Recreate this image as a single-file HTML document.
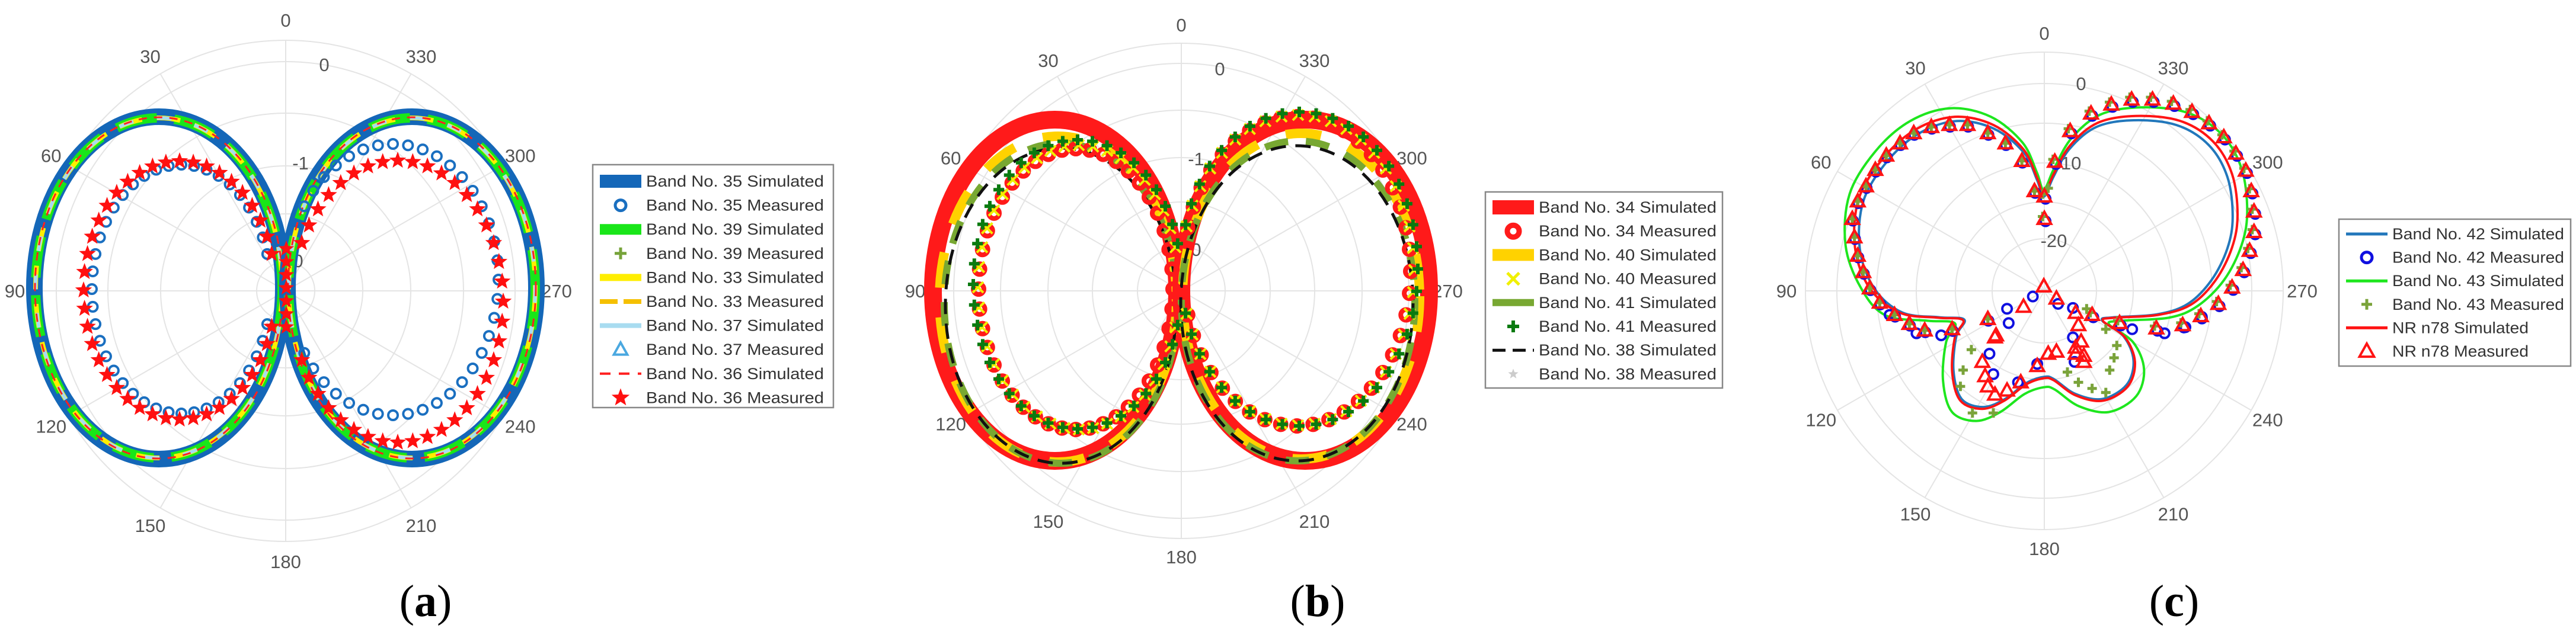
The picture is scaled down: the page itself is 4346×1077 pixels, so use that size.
<!DOCTYPE html>
<html><head><meta charset="utf-8"><style>
html,body{margin:0;padding:0;background:#fff;}
svg{display:block;}
</style></head><body>
<svg id="s" xmlns="http://www.w3.org/2000/svg" width="4346" height="1077" viewBox="0 0 4346 1077">
<rect width="4346" height="1077" fill="#fff"/>
<g id="root"></g>
</svg>
<script>
const NS='http://www.w3.org/2000/svg';
const root=document.getElementById('root');
function el(p,tag,a,txt){const e=document.createElementNS(NS,tag);for(const k in a)e.setAttribute(k,a[k]);if(txt!==undefined)e.textContent=txt;p.appendChild(e);return e;}
function grid(cx,cy,R,rings,lr,ringLabels){
  const g=el(root,'g',{stroke:'#e4e4e4','stroke-width':2,fill:'none'});
  rings.forEach(r=>el(g,'circle',{cx,cy,r}));
  for(let a=0;a<360;a+=30){const t=a*Math.PI/180;el(g,'line',{x1:cx,y1:cy,x2:cx-R*Math.sin(t),y2:cy-R*Math.cos(t)});}
  for(let a=0;a<360;a+=30){const t=a*Math.PI/180;el(root,'text',{x:cx-lr*Math.sin(t),y:cy-lr*Math.cos(t)+11,'text-anchor':'middle','font-family':'Liberation Sans, sans-serif','font-size':31,fill:'#555'},String(a));}
  ringLabels.forEach(l=>el(root,'text',{x:l[0],y:l[1]+11,'text-anchor':'middle','font-family':'Liberation Sans, sans-serif','font-size':31,fill:'#555'},l[2]));
}
function ell(c,cx,cy,rx,ry,stroke,w,dash){const a={cx,cy,rx,ry,fill:'none',stroke,'stroke-width':w};if(dash)a['stroke-dasharray']=dash;el(root,'ellipse',a);}
function star(x,y,s,col){let d='';for(let i=0;i<10;i++){const r=i%2?s*0.42:s;const t=-Math.PI/2+i*Math.PI/5;d+=(i?'L':'M')+(x+r*Math.cos(t)).toFixed(1)+' '+(y+r*Math.sin(t)).toFixed(1);}el(root,'path',{d:d+'Z',fill:col});}
function circ(x,y,r,col,w){el(root,'circle',{cx:x,cy:y,r,fill:'none',stroke:col,'stroke-width':w});}
function plus(x,y,s,col,w){el(root,'path',{d:`M${x-s} ${y}H${x+s}M${x} ${y-s}V${y+s}`,stroke:col,'stroke-width':w});}
function xm(x,y,s,col,w){el(root,'path',{d:`M${x-s} ${y-s}L${x+s} ${y+s}M${x+s} ${y-s}L${x-s} ${y+s}`,stroke:col,'stroke-width':w});}
function tri(x,y,s,col,w){el(root,'path',{d:`M${x} ${y-s}L${x+s*0.95} ${y+s*0.7}L${x-s*0.95} ${y+s*0.7}Z`,fill:'none',stroke:col,'stroke-width':w,'stroke-linejoin':'miter'});}
function onEll(cx,cy,rx,ry,n,f,skip){for(let i=0;i<n;i++){const t=2*Math.PI*i/n;const x=cx+rx*Math.cos(t),y=cy+ry*Math.sin(t);if(skip&&skip(x,y))continue;f(x,y);}}
function legend(x0,y0,w,h,y1,dy,items,fs){
  el(root,'rect',{x:x0,y:y0,width:w,height:h,fill:'#fff',stroke:'#888','stroke-width':2.5});
  items.forEach((it,i)=>{const y=y1+dy*i;const sx=x0+12,ex=x0+82,mx=(sx+ex)/2;it[0](sx,ex,mx,y);
    el(root,'text',{x:x0+90,y:y+9,'font-family':'Liberation Sans, sans-serif','font-size':fs,fill:'#333',textLength:it[2]||0,lengthAdjust:'spacingAndGlyphs'},it[1]);});
}
function ln(col,w,dash){return (sx,ex,mx,y)=>{const a={x1:sx,y1:y,x2:ex,y2:y,stroke:col,'stroke-width':w};if(dash)a['stroke-dasharray']=dash;el(root,'line',a);};}

/* ---------- Panel a ---------- */
grid(482,491,423,[423,387,300,211,130,49],457,[[547,109,'0'],[507,275,'-1'],[503,440,'0']]);
[[268,486,210,289],[695,486,210,289]].forEach(e=>{
  ell(0,e[0],e[1],e[2],e[3],'#1467b8',28);
  ell(0,e[0],e[1],e[2]-2,e[3]-2,'#19e619',16,'70 30');
  ell(0,e[0],e[1],e[2]-2,e[3]-2,'#ffee00',8,'40 25');
  ell(0,e[0],e[1],e[2]-2,e[3]-2,'#a8dcf0',6,'25 40');
  ell(0,e[0],e[1],e[2]-1,e[3]-1,'#ff2020',3,'14 12');
});
onEll(306,488,151,210,44,(x,y)=>circ(x,y,8,'#1a6fc0',4),(x,y)=>x>455);
onEll(663,472,178,229,44,(x,y)=>circ(x,y,8,'#1a6fc0',4),(x,y)=>x<505);
onEll(303,490,162,218,44,(x,y)=>star(x,y,15,'#ff1010'),(x,y)=>x>462);
onEll(671,509,178,238,44,(x,y)=>star(x,y,15,'#ff1010'),(x,y)=>x<505);
for(let y=420;y<570;y+=22)star(483,y,14,'#ff1010');
legend(1000,278,406,410,306,40.6,[
 [ln('#1467b8',22),'Band No. 35 Simulated',300],
 [(s,e,m,y)=>circ(m,y,9,'#1a6fc0',5),'Band No. 35 Measured',300],
 [ln('#19e619',18),'Band No. 39 Simulated',300],
 [(s,e,m,y)=>plus(m,y,10,'#77a33a',5),'Band No. 39 Measured',300],
 [ln('#ffee00',12),'Band No. 33 Simulated',300],
 [ln('#f5c000',8,'30 10'),'Band No. 33 Measured',300],
 [ln('#a8dcf0',8),'Band No. 37 Simulated',300],
 [(s,e,m,y)=>tri(m,y,12,'#4aa8e0',4),'Band No. 37 Measured',300],
 [ln('#ff2020',4,'18 14'),'Band No. 36 Simulated',300],
 [(s,e,m,y)=>star(m,y,16,'#ff1010'),'Band No. 36 Measured',300]
],27);
el(root,'text',{x:718,y:1040,'text-anchor':'middle','font-family':'Liberation Serif, serif','font-size':76,fill:'#000'}).innerHTML='(<tspan font-weight="bold">a</tspan>)';

/* ---------- Panel b ---------- */
grid(1993,491,418,[418,384,305,225,150,74],449,[[2058,116,'0'],[2018,268,'-1'],[2018,421,'0']]);
ell(0,1780,490,206,288,'#ff1a1a',30);
ell(0,1785,505,200,275,'#ffd200',16,'60 50');
ell(0,1790,512,197,270,'#78a832',12,'40 30');
ell(0,1790,516,195,266,'#111',5,'26 16');
ell(0,2202,490,209,288,'#ff1a1a',30);
ell(0,2195,500,200,275,'#ffd200',16,'60 50');
ell(0,2190,508,197,270,'#78a832',12,'40 30');
ell(0,2188,512,196,266,'#111',5,'26 16');
onEll(1815,488,164,237,44,(x,y)=>{el(root,'circle',{cx:x,cy:y,r:9,fill:'none',stroke:'#ff1a1a','stroke-width':8});},(x,y)=>x>1982);
onEll(2188,458,192,261,44,(x,y)=>{el(root,'circle',{cx:x,cy:y,r:9,fill:'none',stroke:'#ff1a1a','stroke-width':8});},(x,y)=>x<2002);
onEll(1820,485,170,240,44,(x,y)=>xm(x,y,9,'#f0f000',4),(x,y)=>x>1985);
onEll(2190,456,196,262,44,(x,y)=>xm(x,y,9,'#f0f000',4),(x,y)=>x<2000);
onEll(1818,480,176,244,44,(x,y)=>plus(x,y,9,'#0a7a10',6),(x,y)=>x>1988);
onEll(2192,454,200,265,44,(x,y)=>plus(x,y,9,'#0a7a10',6),(x,y)=>x<1998);
legend(2506,324,400,331,350,40.2,[
 [ln('#ff1a1a',24),'Band No. 34 Simulated',300],
 [(s,e,m,y)=>circ(m,y,10,'#ff1a1a',9),'Band No. 34 Measured',300],
 [ln('#ffd200',20),'Band No. 40 Simulated',300],
 [(s,e,m,y)=>xm(m,y,10,'#f0f000',5),'Band No. 40 Measured',300],
 [ln('#78a832',12),'Band No. 41 Simulated',300],
 [(s,e,m,y)=>plus(m,y,10,'#0a7a10',6),'Band No. 41 Measured',300],
 [ln('#111',5,'22 12'),'Band No. 38 Simulated',300],
 [(s,e,m,y)=>star(m,y,9,'#ccc'),'Band No. 38 Measured',300]
],27);
el(root,'text',{x:2223,y:1040,'text-anchor':'middle','font-family':'Liberation Serif, serif','font-size':76,fill:'#000'}).innerHTML='(<tspan font-weight="bold">b</tspan>)';

/* ---------- Panel c ---------- */
grid(3449,491,403,[403,350,283,216,150,88],435,[[3511,141,'0'],[3489,275,'-10'],[3465,406,'-20']]);
const zp=[[592,470],[610,420],[640,350],[690,295],[760,278],[840,290],[900,340],[935,420],[945,520],[935,600],[905,680],[860,740],[800,765],[720,772],[700,780],[740,820],[758,880],[745,940],[700,975],[650,962],[610,925],[592,920],[560,935],[520,975],[480,995],[440,975],[425,905],[430,820],[445,778],[400,772],[330,760],[275,700],[248,600],[255,480],[300,380],[360,310],[430,280],[500,300],[555,360],[580,430]];
const P=zp.map(p=>[2900+p[0]/1.08,p[1]/1.45+4]);
const C=[3448,486];
function sc(pts,k,kb){return pts.map(p=>{const kk=(p[1]>C[1]+40&&kb)?kb:k;return [C[0]+(p[0]-C[0])*kk,C[1]+(p[1]-C[1])*kk];});}
function cr(pts){let d='M'+pts[0].join(' ');const n=pts.length;for(let i=0;i<n;i++){const p0=pts[(i-1+n)%n],p1=pts[i],p2=pts[(i+1)%n],p3=pts[(i+2)%n];
 d+=`C${(p1[0]+(p2[0]-p0[0])/6).toFixed(1)} ${(p1[1]+(p2[1]-p0[1])/6).toFixed(1)} ${(p2[0]-(p3[0]-p1[0])/6).toFixed(1)} ${(p2[1]-(p3[1]-p1[1])/6).toFixed(1)} ${p2[0].toFixed(1)} ${p2[1].toFixed(1)}`;}return d+'Z';}
el(root,'path',{d:cr(sc(P,1.05,1.1)),fill:'none',stroke:'#1ee61e','stroke-width':4});
el(root,'path',{d:cr(sc(P,0.975,0.985)),fill:'none',stroke:'#2277bb','stroke-width':4});
el(root,'path',{d:cr(P),fill:'none',stroke:'#ff1414','stroke-width':4});
function mk(list,f){list.forEach(p=>{const q=[2900+p[0]/1.08,p[1]/1.45+4];f(q[0],q[1]);});}
const upR=[[640,315],[678,272],[715,250],[752,238],[790,238],[828,248],[862,268],[893,296],[920,330],[942,370],[960,412],[970,462],[975,512],[975,562],[967,608],[955,655],[935,698],[910,738],[878,768],[845,790],[797,798],[730,785],[680,765],[612,390],[593,475],[593,530]];
const upL=[[243,530],[247,575],[253,620],[263,660],[275,700],[293,735],[320,765],[347,787],[375,803],[425,800],[490,775],[253,487],[268,450],[285,410],[305,375],[330,345],[355,320],[387,305],[420,300],[453,300],[490,320],[522,345],[552,388],[575,462]];
const low=[[503,820],[480,880],[485,915],[490,940],[503,960],[525,950],[550,930],[580,890],[592,695],[615,725],[650,760],[655,790],[650,860],[665,880],[660,830],[615,855],[600,860]];
mk(upR,(x,y)=>circ(x+2,y+4,8,'#1010e0',4));mk(upL,(x,y)=>circ(x+1,y+3,8,'#1010e0',4));
mk([[525,750],[528,785],[493,860],[500,910],[545,930],[580,885],[572,720],[618,738],[645,748],[645,820],[648,880],[753,800],[812,810],[850,795],[880,770],[360,810],[405,815],[311,765]],(x,y)=>circ(x,y,8,'#1010e0',4));
mk(upR,(x,y)=>plus(x-3,y-4,8,'#7aa33a',5));mk(upL,(x,y)=>plus(x,y,8,'#7aa33a',5));
mk([[460,850],[445,900],[440,940],[462,1005],[500,1005],[635,905],[655,930],[680,945],[705,955],[712,900],[720,870],[725,840],[705,800],[670,750],[600,455]],(x,y)=>plus(x,y,8,'#7aa33a',5));
mk(upR,(x,y)=>tri(x,y,12,'#ff1414',4));mk(upL,(x,y)=>tri(x,y,12,'#ff1414',4));
mk(low,(x,y)=>tri(x,y,12,'#ff1414',4));
mk([[592,695],[555,745],[505,815],[650,845],[665,865]],(x,y)=>tri(x,y,12,'#ff1414',4));
legend(3946,370,391,248,395,39.6,[
 [ln('#2277bb',5),'Band No. 42 Simulated',290],
 [(s,e,m,y)=>circ(m,y,9,'#1010e0',5),'Band No. 42 Measured',290],
 [ln('#1ee61e',5),'Band No. 43 Simulated',290],
 [(s,e,m,y)=>plus(m,y,9,'#7aa33a',5),'Band No. 43 Measured',290],
 [ln('#ff1414',5),'NR n78 Simulated',230],
 [(s,e,m,y)=>tri(m,y,13,'#ff1414',4),'NR n78 Measured',230]
],27);
el(root,'text',{x:3668,y:1040,'text-anchor':'middle','font-family':'Liberation Serif, serif','font-size':76,fill:'#000'}).innerHTML='(<tspan font-weight="bold">c</tspan>)';
</script>
</body></html>
